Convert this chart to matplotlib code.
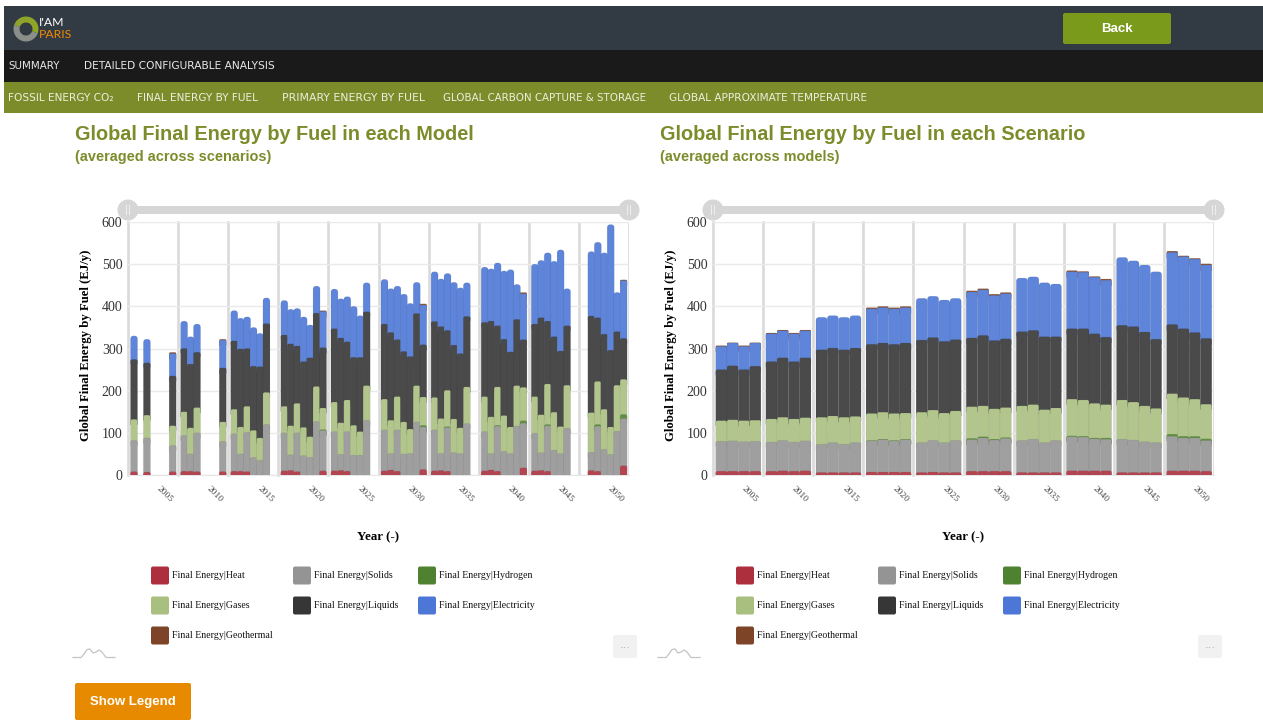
import matplotlib
matplotlib.use("Agg")
import matplotlib.pyplot as plt
from matplotlib.colors import to_rgb
from matplotlib.patches import Circle, FancyBboxPatch, Rectangle, Wedge
from matplotlib.transforms import ScaledTranslation

W, H = 1263, 720

YEARS = [2005, 2010, 2015, 2020, 2025, 2030, 2035, 2040, 2045, 2050]
SERIES = ["Heat", "Solids", "Hydrogen", "Gases", "Liquids", "Electricity", "Geothermal"]
COLORS = ["#ad2f3e", "#949494", "#4f8230", "#a9bf80", "#363636", "#4c77d6", "#7d4428"]
LEGEND_ORDER = [["Heat", "Gases", "Geothermal"], ["Solids", "Liquids"], ["Hydrogen", "Electricity"]]

# values are the top edge of each stacked segment (EJ/y)
# left chart: which of the 7 models has a bar in each year
model_ids = [[0, 2, 6], [0, 1, 2, 6], [0, 1, 2, 3, 4, 5], [0, 1, 2, 3, 4, 5, 6], [0, 1, 2, 3, 4, 5],
             [0, 1, 2, 3, 4, 5, 6], [0, 1, 2, 3, 4, 5], [0, 1, 2, 3, 4, 5, 6], [0, 1, 2, 3, 4, 5],
             [1, 2, 3, 4, 5, 6]]
model_heat = [[8, 7, 8], [9, 9, 8, 8], [9, 9, 8, 0, 0, 0], [10, 11, 8, 0, 0, 0, 10], [10, 11, 9, 0, 0, 0],
              [10, 12, 9, 0, 0, 0, 13], [10, 11, 9, 0, 0, 0], [10, 12, 9, 0, 0, 0, 17], [10, 11, 9, 0, 0, 0],
              [11, 9, 0, 0, 0, 22]]
model_solids = [[82, 88, 70], [94, 50, 100, 80], [98, 50, 101, 42, 35, 120], [100, 48, 100, 46, 42, 127, 106],
                [103, 49, 103, 47, 47, 130], [107, 51, 107, 50, 51, 126, 114], [107, 51, 113, 53, 51, 122],
                [103, 51, 116, 56, 51, 116, 123], [99, 53, 117, 59, 51, 111], [54, 116, 61, 49, 104, 134]]
model_hydrogen = [[82, 88, 70], [94, 50, 100, 80], [98, 50, 101, 42, 35, 120], [100, 48, 100, 46, 42, 127, 108],
                  [103, 49, 103, 47, 47, 130], [107, 51, 107, 50, 51, 126, 118], [107, 51, 115, 53, 51, 122],
                  [103, 51, 118, 56, 51, 116, 129], [99, 53, 120, 59, 51, 111], [54, 120, 61, 49, 104, 144]]
model_gases = [[132, 142, 117], [150, 112, 160, 126], [156, 114, 163, 106, 88, 196],
               [163, 117, 170, 113, 91, 210, 159], [173, 124, 178, 118, 103, 212],
               [180, 130, 186, 126, 109, 212, 185], [184, 134, 201, 133, 112, 209],
               [186, 138, 209, 141, 114, 212, 208], [186, 143, 216, 149, 115, 213],
               [148, 222, 156, 114, 213, 227]]
model_liquids = [[274, 266, 235], [300, 263, 291, 254], [318, 299, 300, 258, 257, 359],
                 [332, 311, 306, 269, 278, 384, 302], [347, 325, 316, 279, 279, 387],
                 [358, 338, 321, 293, 281, 383, 309], [364, 352, 343, 308, 288, 376],
                 [362, 365, 354, 322, 292, 369, 321], [358, 373, 365, 328, 294, 354],
                 [377, 373, 334, 296, 340, 324]]
model_electricity = [[330, 322, 288], [365, 328, 358, 320], [390, 372, 375, 350, 336, 420],
                     [414, 393, 395, 375, 356, 448, 388], [441, 418, 423, 400, 378, 456],
                     [464, 442, 448, 429, 407, 457, 403], [482, 465, 478, 457, 444, 456],
                     [493, 489, 503, 484, 487, 452, 430], [500, 509, 527, 507, 534, 442],
                     [530, 552, 527, 594, 433, 461]]
model_geothermal = [[330, 322, 291], [365, 328, 358, 322], [390, 372, 375, 350, 336, 420],
                    [414, 393, 395, 375, 356, 448, 390], [441, 418, 423, 400, 378, 456],
                    [464, 442, 448, 429, 407, 457, 406], [482, 465, 478, 457, 444, 456],
                    [493, 489, 503, 484, 487, 452, 433], [500, 509, 527, 507, 534, 442],
                    [530, 552, 527, 594, 433, 463]]

# right chart: 4 scenarios in every year
scenario_ids = [[0, 1, 2, 3]] * 10
scen_heat = [[9, 9, 9, 9], [9, 10, 9, 10], [6, 6, 6, 6], [7, 7, 7, 7], [6, 7, 6, 6],
             [9, 9, 9, 9], [6, 6, 6, 6], [10, 10, 10, 10], [6, 6, 6, 6], [10, 10, 10, 9]]
scen_solids = [[80, 81, 79, 80], [78, 82, 78, 81], [73, 77, 73, 77], [81, 84, 81, 84], [77, 82, 77, 82],
               [84, 88, 83, 87], [82, 85, 77, 82], [91, 90, 86, 85], [85, 83, 79, 77], [92, 88, 88, 82]]
scen_hydrogen = [[80, 81, 79, 80], [78, 82, 78, 81], [73, 77, 73, 77], [82, 85, 82, 85], [77, 82, 77, 82],
                 [87, 91, 85, 89], [82, 85, 77, 82], [93, 92, 88, 88], [85, 83, 79, 77], [97, 92, 92, 86]]
scen_gases = [[129, 131, 129, 130], [133, 137, 133, 136], [137, 140, 137, 139], [146, 149, 146, 147],
              [149, 154, 147, 152], [162, 164, 157, 160], [164, 167, 155, 159], [180, 178, 170, 167],
              [178, 173, 164, 158], [193, 184, 180, 168]]
scen_liquids = [[250, 259, 250, 258], [269, 278, 269, 278], [297, 301, 297, 301], [310, 313, 310, 313],
                [320, 326, 317, 321], [325, 331, 319, 323], [340, 343, 328, 328], [347, 347, 335, 327],
                [355, 352, 339, 322], [357, 347, 338, 324]]
scen_electricity = [[305, 313, 305, 313], [335, 342, 335, 342], [374, 378, 374, 378], [394, 397, 394, 397],
                    [419, 424, 415, 419], [434, 439, 426, 430], [467, 470, 456, 453], [482, 481, 469, 462],
                    [516, 508, 498, 482], [528, 518, 512, 498]]
scen_geothermal = [[307, 314, 307, 314], [337, 344, 337, 344], [374, 378, 374, 378], [397, 400, 397, 400],
                   [419, 424, 415, 419], [437, 442, 429, 433], [467, 470, 456, 453], [485, 483, 471, 465],
                   [516, 508, 498, 482], [531, 520, 514, 501]]

model_tops = [model_heat, model_solids, model_hydrogen, model_gases, model_liquids, model_electricity, model_geothermal]
scen_tops = [scen_heat, scen_solids, scen_hydrogen, scen_gases, scen_liquids, scen_electricity, scen_geothermal]

SERIF = "Liberation Serif"
SANS = "Liberation Sans"
NAV = "DejaVu Sans"
OLIVE = "#7d8c2b"

fig = plt.figure(figsize=(W / 100, H / 100), dpi=100, facecolor="white")

# page furniture drawn in pixel coordinates
bg = fig.add_axes([0, 0, 1, 1])
bg.set_xlim(0, W)
bg.set_ylim(H, 0)
bg.axis("off")


def rect(x0, y0, x1, y1, color, r=0):
    if r:
        bg.add_patch(FancyBboxPatch((x0, y0), x1 - x0, y1 - y0, boxstyle="round,pad=0,rounding_size=%g" % r,
                                    fc=color, ec="none"))
    else:
        bg.add_patch(Rectangle((x0, y0), x1 - x0, y1 - y0, fc=color, ec="none"))


def washed(color, alpha=0.9):
    # the bars are a bit see-through in the original
    return tuple(alpha * c + 1 - alpha for c in to_rgb(color))


rect(4, 6, W, 50, "#323a43")
rect(4, 50, W, 82, "#1a1a1a")
rect(4, 82, W, 113, OLIVE)

# logo
bg.add_patch(Wedge((26, 29), 12.5, 20, 200, width=6, fc="#8a8f8a", ec="none"))
bg.add_patch(Wedge((26, 29), 12.5, 200, 380, width=6, fc="#8fa52a", ec="none"))
bg.text(39, 23, "I'AM", color="white", fontsize=8.8, family="Lato", va="center")
bg.text(39, 34, "PARIS", color="#f08a00", fontsize=8.8, family="Lato", va="center")

rect(1063, 13, 1171, 44, "#7a9a1c", r=2)
bg.text(1117, 28.5, "Back", color="white", fontsize=9.5, family=SANS, weight="bold", ha="center", va="center")

for x, s, size in [(8, "SUMMARY", 7.4), (84, "DETAILED CONFIGURABLE ANALYSIS", 7.65)]:
    bg.text(x, 66, s, color="#e8e8e8", fontsize=size, family=NAV, va="center")
for x, s, size in [(8, "FOSSIL ENERGY CO₂", 7.6), (137, "FINAL ENERGY BY FUEL", 7.6),
                   (282, "PRIMARY ENERGY BY FUEL", 7.8), (443, "GLOBAL CARBON CAPTURE & STORAGE", 7.4),
                   (669, "GLOBAL APPROXIMATE TEMPERATURE", 7.6)]:
    bg.text(x, 98, s, color="#ecefdc", fontsize=size, family=NAV, va="center")

rect(75, 683, 191, H, "#e88a00", r=2)
bg.text(133, 702, "Show Legend", color="white", fontsize=9.5, family=SANS, weight="bold", ha="center", va="center")


def to_axes(x0, x1, y_top, y_bottom):
    return [x0 / W, 1 - y_bottom / H, (x1 - x0) / W, (y_bottom - y_top) / H]


def draw_panel(x0, title, sub, ids, tops, first, step, width):
    x1 = x0 + 501
    bg.text(x0 - 53, 134, title, color=OLIVE, fontsize=14.33, family=SANS, weight="bold", va="center")
    bg.text(x0 - 53, 157, sub, color=OLIVE, fontsize=10.45, family=SANS, weight="bold", va="center")

    # range slider
    rect(x0, 206, x1, 214, "#d6d6d6")
    for cx in (x0, x1):
        bg.add_patch(Circle((cx, 210), 10.5, fc="#d6d6d6", ec="none"))
        rect(cx - 2, 205, cx - 1, 215, "#eeeeee")
        rect(cx + 1, 205, cx + 2, 215, "#eeeeee")

    ax = fig.add_axes(to_axes(x0, x1, 222, 475))
    ax.set_xlim(0, 10)
    ax.set_ylim(0, 600)
    ax.patch.set_alpha(0)
    for side in ("top", "right", "left"):
        ax.spines[side].set_visible(False)
    ax.spines["bottom"].set_color("#e6e6e6")

    ax.set_yticks([0, 100, 200, 300, 400, 500, 600])
    ax.grid(axis="y", color="#eaeaea", lw=1, zorder=0)
    ax.set_xticks(range(0, 11), minor=True)
    ax.grid(axis="x", which="minor", color="#dadada", lw=1.9, zorder=0)
    for t in ax.xaxis.get_minor_ticks():
        t.gridline.set_clip_on(False)
    ax.tick_params(axis="x", which="both", length=0)
    ax.tick_params(axis="y", length=0, pad=4, labelsize=10, labelcolor="#333333")
    for lab in ax.get_yticklabels():
        lab.set_family(SERIF)

    ax.set_xticks([i + 0.5 for i in range(10)])
    ax.set_xticklabels(YEARS, rotation=-45, fontsize=6.8, family=SERIF, color="#444444", ha="center", va="center")
    shift = ScaledTranslation(0.12, -0.14, fig.dpi_scale_trans)
    for lab in ax.get_xticklabels():
        lab.set_transform(lab.get_transform() + shift)

    ax.set_ylabel("Global Final Energy by Fuel (EJ/y)", family=SERIF, weight="bold", fontsize=9.2)
    ax.yaxis.set_label_coords(-36 / 501, 0.514)
    bg.text(x0 + 250, 537.5, "Year (-)", family=SERIF, weight="bold", fontsize=9.3, ha="center", va="center")

    # one px in data units, so the rounded corners stay round
    px_x = 10 / 501
    aspect = (600 / 253) / px_x
    overlap = 15  # EJ/y a segment runs down behind the one under it
    for y, slots in enumerate(ids):
        for k, slot in enumerate(slots):
            xc = y + first + step * slot
            has_geo = tops[6][y][k] > tops[5][y][k]
            # top segment first, so each lower one covers the square foot of the one above
            for s in range(len(tops) - 1, -1, -1):
                top = tops[s][y][k]
                prev = tops[s - 1][y][k] if s > 0 else 0
                if top - prev <= 0:
                    continue
                r = 3.2 if s == 5 and not has_geo else 1.2 if s >= 5 else 1.8
                edge = "none" if s in (2, 6) else (0, 0, 0, 0.07)
                ax.add_patch(FancyBboxPatch((xc - width / 2, prev - overlap), width, top - prev + overlap,
                                            boxstyle="round,pad=0,rounding_size=%g" % (r * px_x),
                                            mutation_aspect=aspect, fc=washed(COLORS[s]),
                                            ec=edge, lw=0.5, zorder=3))

    # legend
    for cx, col in zip((x0 + 23, x0 + 165, x0 + 290), LEGEND_ORDER):
        for row, name in enumerate(col):
            cy = 575.5 + row * 30
            rect(cx, cy - 9, cx + 18, cy + 9, COLORS[SERIES.index(name)], r=2)
            bg.text(cx + 21, cy, "Final Energy|" + name, family=SERIF, fontsize=7.15, color="#111111", va="center")

    # little toolbox bits under the plot
    bg.plot([x0 - 55, x0 - 47, x0 - 44, x0 - 41, x0 - 38, x0 - 35, x0 - 32, x0 - 29, x0 - 26, x0 - 22, x0 - 13],
            [657.5, 657.5, 654, 649.5, 649, 653, 652, 650, 652, 657.5, 657.5], color="#c4c4c4", lw=0.9)
    rect(x0 + 485, 635, x0 + 509, 658, "#f1f1f1", r=2)
    bg.text(x0 + 497, 645, "...", color="#aaaaaa", fontsize=8, ha="center", va="center")
    return ax


draw_panel(128, "Global Final Energy by Fuel in each Model", "(averaged across scenarios)",
           model_ids, model_tops, 0.12, 0.1287, 0.14)
draw_panel(713, "Global Final Energy by Fuel in each Scenario", "(averaged across models)",
           scenario_ids, scen_tops, 0.167, 0.2253, 0.225)

plt.savefig("out.png", dpi=100)
print("Saved out.png")
